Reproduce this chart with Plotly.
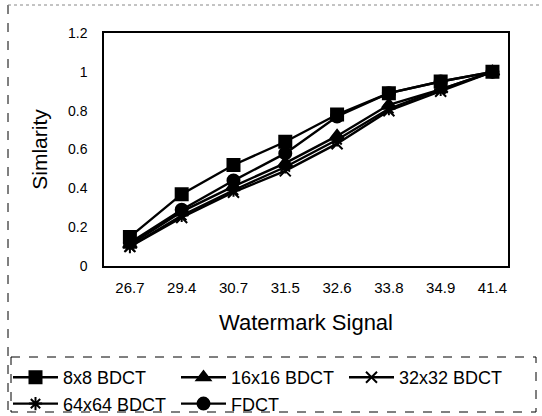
import plotly.graph_objects as go

categories = ["26.7", "29.4", "30.7", "31.5", "32.6", "33.8", "34.9", "41.4"]
s_8x8 = [0.15, 0.37, 0.52, 0.64, 0.78, 0.89, 0.95, 1.0]
s_16x16 = [0.11, 0.28, 0.41, 0.53, 0.67, 0.83, 0.91, 1.0]
s_32x32 = [0.10, 0.25, 0.38, 0.49, 0.63, 0.80, 0.90, 1.0]
s_64x64 = [0.10, 0.26, 0.39, 0.51, 0.65, 0.81, 0.91, 1.0]
s_fdct = [0.12, 0.29, 0.44, 0.58, 0.77, 0.89, 0.95, 1.0]

series = [
    ("8x8 BDCT", s_8x8, "square", 12),
    ("16x16 BDCT", s_16x16, "triangle-up", 12),
    ("32x32 BDCT", s_32x32, "x-thin-open", 11),
    ("64x64 BDCT", s_64x64, "asterisk-open", 11),
    ("FDCT", s_fdct, "circle", 12),
]

fig = go.Figure()
for name, vals, sym, sz in series:
    fig.add_trace(go.Scatter(
        x=categories, y=vals, name=name, mode="lines+markers",
        line=dict(color="black", width=2.4),
        marker=dict(symbol=sym, size=sz, color="black",
                    line=dict(color="black", width=2)),
    ))

font = "Liberation Sans, Arial, sans-serif"
fig.update_layout(
    width=542, height=416,
    margin=dict(l=104, r=34, t=33, b=150, autoexpand=False),
    paper_bgcolor="white", plot_bgcolor="white",
    font=dict(family=font, color="black", size=14),
    showlegend=True,
    legend=dict(
        orientation="h", x=(8 - 104) / 404, y=-(359 - 266) / 233,
        xanchor="left", yanchor="top",
        font=dict(size=18, family=font, color="black"),
        entrywidth=108, entrywidthmode="pixels",
        bgcolor="rgba(0,0,0,0)", tracegroupgap=0,
        itemwidth=45,
    ),
    xaxis=dict(
        type="category", range=[-0.5, 7.3],
        showline=True, linecolor="black", linewidth=1.5, mirror=True,
        showgrid=False, ticks="", ticklabelstandoff=7,
        tickfont=dict(size=15),
        title=dict(text="Watermark Signal", font=dict(size=22), standoff=20),
    ),
    yaxis=dict(
        range=[0, 1.2], tickvals=[0, 0.2, 0.4, 0.6, 0.8, 1.0, 1.2],
        ticktext=["0", "0.2", "0.4", "0.6", "0.8", "1", "1.2"],
        showline=True, linecolor="black", linewidth=1.5, mirror=True,
        showgrid=False, ticks="", ticklabelstandoff=12,
        tickfont=dict(size=14),
        title=dict(text="Simlarity", font=dict(size=21), standoff=15),
    ),
)

# dashed frame pieces (outer frame left/top edges and legend box)
px = lambda v: (v - 104) / 404
py = lambda v: (266 - v) / 233
fig.add_shape(type="line", xref="paper", yref="paper",
              x0=px(8), x1=px(8), y0=py(5), y1=py(416),
              line=dict(color="black", width=1, dash="dash"))
fig.add_shape(type="line", xref="paper", yref="paper",
              x0=px(8), x1=px(542), y0=py(5), y1=py(5),
              line=dict(color="#888888", width=1, dash="dot"))
fig.add_shape(type="rect", xref="paper", yref="paper",
              x0=px(11), x1=px(536), y0=py(357), y1=py(412),
              line=dict(color="black", width=1, dash="dash"))

fig.write_html("out.html")
